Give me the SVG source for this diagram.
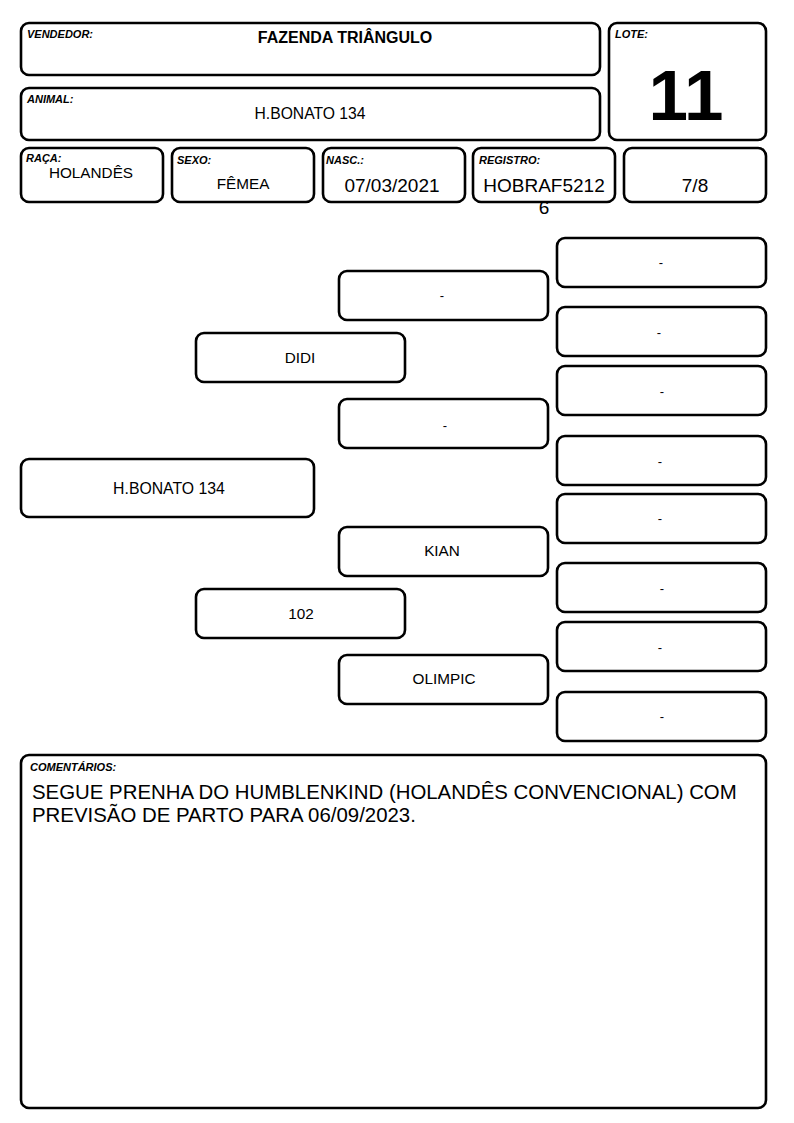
<svg xmlns="http://www.w3.org/2000/svg" width="794" height="1123" viewBox="0 0 794 1123">
<style>
.b{fill:#fff;stroke:#000;stroke-width:2.6}
.l{font-family:"Liberation Sans",Arial,sans-serif;font-size:11px;font-weight:bold;font-style:italic;fill:#000}
.v{font-family:"Liberation Sans",Arial,sans-serif;font-size:15.3px;fill:#000;text-anchor:middle}
.big{font-size:19px}
.d{font-family:"Liberation Sans",Arial,sans-serif;font-size:13px;fill:#000;text-anchor:middle}
.c{font-family:"Liberation Sans",Arial,sans-serif;font-size:20.4px;fill:#000}
</style>
<rect width="794" height="1123" fill="#fff"/>
<g id="vendedor"><rect class="b" x="21" y="23" width="579" height="52" rx="8"/><text class="l" x="27" y="38">VENDEDOR:</text><text class="v" x="345" y="43" style="font-size:16px;font-weight:bold">FAZENDA TRIÂNGULO</text></g>
<g id="animal"><rect class="b" x="21" y="88" width="579" height="52" rx="8"/><text class="l" x="27" y="103">ANIMAL:</text><text class="v" x="310" y="119" style="font-size:15.7px">H.BONATO 134</text></g>
<g id="lote"><rect class="b" x="609" y="23" width="157" height="117" rx="8"/><text class="l" x="615" y="38">LOTE:</text><text x="686" y="120" font-family="Liberation Sans,Arial,sans-serif" font-size="71" font-weight="bold" text-anchor="middle">11</text></g>
<g id="raca"><rect class="b" x="21" y="148" width="142" height="54" rx="8"/><text class="l" x="26" y="162">RAÇA:</text><text class="v" x="91" y="178">HOLANDÊS</text></g>
<g id="sexo"><rect class="b" x="172" y="148" width="142" height="54" rx="8"/><text class="l" x="177" y="164">SEXO:</text><text class="v" x="243" y="189">FÊMEA</text></g>
<g id="nasc"><rect class="b" x="323" y="148" width="142" height="54" rx="8"/><text class="l" x="326" y="164">NASC.:</text><text class="v big" x="392" y="192">07/03/2021</text></g>
<g id="registro"><rect class="b" x="473" y="148" width="142" height="54" rx="8"/><text class="l" x="479" y="164">REGISTRO:</text><text class="v big" x="544" y="192">HOBRAF5212</text><text class="v big" x="544" y="214">6</text></g>
<g id="grau"><rect class="b" x="624" y="148" width="142" height="54" rx="8"/><text class="v big" x="695" y="192">7/8</text></g>
<g id="connectors"></g>
<g id="animal-ped"><rect class="b" x="21" y="459" width="293" height="58" rx="8"/><text class="v" x="169" y="494" style="font-size:15.8px">H.BONATO 134</text></g>
<g id="mae"><rect class="b" x="196" y="333" width="209" height="49" rx="8"/><text class="v" x="300" y="363">DIDI</text></g>
<g id="pai"><rect class="b" x="196" y="589" width="209" height="49" rx="8"/><text class="v" x="301" y="619">102</text></g>
<g id="g3a"><rect class="b" x="339" y="271" width="209" height="49" rx="8"/><text class="d" x="442" y="300">-</text></g>
<g id="g3b"><rect class="b" x="339" y="399" width="209" height="49" rx="8"/><text class="d" x="445" y="430">-</text></g>
<g id="g3c"><rect class="b" x="339" y="527" width="209" height="49" rx="8"/><text class="v" x="442" y="556">KIAN</text></g>
<g id="g3d"><rect class="b" x="339" y="655" width="209" height="49" rx="8"/><text class="v" x="444" y="684">OLIMPIC</text></g>
<g id="g4a"><rect class="b" x="557" y="238" width="209" height="49" rx="8"/><text class="d" x="661" y="267">-</text></g>
<g id="g4b"><rect class="b" x="557" y="307" width="209" height="49" rx="8"/><text class="d" x="659" y="337">-</text></g>
<g id="g4c"><rect class="b" x="557" y="366" width="209" height="49" rx="8"/><text class="d" x="662" y="396">-</text></g>
<g id="g4d"><rect class="b" x="557" y="436" width="209" height="49" rx="8"/><text class="d" x="660" y="466">-</text></g>
<g id="g4e"><rect class="b" x="557" y="494" width="209" height="49" rx="8"/><text class="d" x="660" y="523">-</text></g>
<g id="g4f"><rect class="b" x="557" y="563" width="209" height="49" rx="8"/><text class="d" x="662" y="593">-</text></g>
<g id="g4g"><rect class="b" x="557" y="622" width="209" height="49" rx="8"/><text class="d" x="660" y="652">-</text></g>
<g id="g4h"><rect class="b" x="557" y="692" width="209" height="49" rx="8"/><text class="d" x="662" y="721">-</text></g>
<g id="comentarios"><rect class="b" x="21" y="755" width="745" height="353" rx="8"/><text class="l" x="30" y="771">COMENTÁRIOS:</text>
<text class="c" x="32" y="799">SEGUE PRENHA DO HUMBLENKIND (HOLANDÊS CONVENCIONAL) COM</text>
<text class="c" x="32" y="822">PREVISÃO DE PARTO PARA 06/09/2023.</text></g>
</svg>
